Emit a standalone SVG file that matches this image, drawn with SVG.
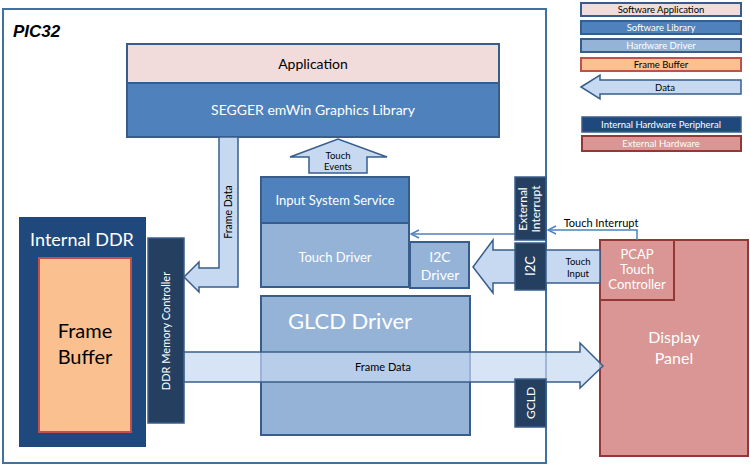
<svg xmlns="http://www.w3.org/2000/svg" width="750" height="466" viewBox="0 0 750 466">
<defs>
<style>
text{font-family:Lato,"Open Sans","Liberation Sans",sans-serif;text-anchor:middle}
.w{fill:#fff}
.k{fill:#000}
.app{fill:#F2DCDB;stroke:#385D8A;stroke-width:2}
.lib{fill:#4F81BD;stroke:#385D8A;stroke-width:2}
.drv{fill:#95B3D7;stroke:#385D8A;stroke-width:2}
.fb{fill:#FAC090;stroke:#C0504D;stroke-width:2}
.dat{fill:#C6D9F1;stroke:#385D8A;stroke-width:1.5}
.per{fill:#243F60;stroke:#385D8A;stroke-width:1.5}
.ext{fill:#D99694;stroke:#953735;stroke-width:2}
.ln{fill:none;stroke:#4F81BD;stroke-width:1.5}
</style>
<marker id="ah" viewBox="0 0 10 10" refX="9" refY="5" markerWidth="10" markerHeight="10" markerUnits="userSpaceOnUse" orient="auto">
<path d="M1,1 L9,5 L1,9" fill="none" stroke="#4F81BD" stroke-width="1.5"/>
</marker>
</defs>
<rect width="750" height="466" fill="#fff"/>

<g id="pic32">
<rect x="3" y="9" width="543" height="454" fill="none" stroke="#41719C" stroke-width="2"/>
<text x="13" y="37" style="font-family:'Liberation Sans',sans-serif;font-weight:bold;font-style:italic;font-size:17px;text-anchor:start" class="k">PIC32</text>
</g>

<g id="legend">
<rect x="581" y="3" width="160" height="13" class="app"/>
<text x="661" y="13" font-size="9.5" class="k">Software Application</text>
<rect x="581" y="21" width="160" height="13" class="lib"/>
<text x="661" y="31" font-size="9.5" class="w">Software Library</text>
<rect x="581" y="39" width="160" height="13" class="drv"/>
<text x="661" y="49" font-size="9.5" class="w">Hardware Driver</text>
<rect x="581" y="58" width="160" height="13" class="fb"/>
<text x="661" y="68" font-size="9.5" class="k">Frame Buffer</text>
<path d="M581,87 L600,75 L600,80 L741,80 L741,94 L600,94 L600,99 Z" class="dat"/>
<text x="665" y="91" font-size="9.5" class="k">Data</text>
<rect x="582" y="117" width="159" height="15" class="per" style="fill:#1F497D"/>
<text x="661" y="128" font-size="9.5" class="w">Internal Hardware Peripheral</text>
<rect x="582" y="136" width="159" height="15" class="ext"/>
<text x="661" y="147" font-size="9.5" class="w">External Hardware</text>
</g>

<g id="application">
<rect x="127" y="44" width="372" height="39" class="app"/>
<text x="313" y="69" font-size="14" class="k">Application</text>
</g>
<g id="segger">
<rect x="127" y="83" width="372" height="54" class="lib"/>
<text x="313" y="115" font-size="14" class="w">SEGGER emWin Graphics Library</text>
</g>

<g id="input-system-service">
<rect x="261" y="177" width="148" height="46" class="lib"/>
<text x="335" y="205" font-size="13" class="w">Input System Service</text>
</g>
<g id="touch-driver">
<rect x="261" y="223" width="148" height="64" class="drv"/>
<text x="335" y="262" font-size="13" class="w">Touch Driver</text>
</g>
<g id="i2c-driver">
<rect x="410" y="242" width="59" height="46" class="drv"/>
<text x="440" y="262" font-size="14" class="w">I2C</text>
<text x="440" y="280" font-size="14" class="w">Driver</text>
</g>
<g id="glcd-driver">
<rect x="261" y="296" width="209" height="139" class="drv"/>
<text x="350" y="329" font-size="22" class="w">GLCD Driver</text>
</g>

<g id="internal-ddr">
<rect x="19" y="217" width="127" height="230" fill="#1F497D"/>
<text x="82" y="246" font-size="18" class="w">Internal DDR</text>
</g>
<g id="frame-buffer">
<rect x="39" y="258" width="92" height="174" class="fb"/>
<text x="85" y="338" font-size="20" class="k">Frame</text>
<text x="85" y="364" font-size="20" class="k">Buffer</text>
</g>
<g id="ddr-memory-controller">
<rect x="148" y="238" width="36" height="185" class="per"/>
<text transform="translate(170,331) rotate(-90)" font-size="11" class="w">DDR Memory Controller</text>
</g>

<g id="display-panel">
<rect x="600" y="240" width="148" height="216" class="ext"/>
<text x="674" y="343" font-size="16" class="w">Display</text>
<text x="674" y="364" font-size="16" class="w">Panel</text>
</g>
<g id="pcap-touch-controller">
<rect x="600" y="240" width="74" height="60" class="ext"/>
<text x="637" y="259" font-size="13" class="w">PCAP</text>
<text x="637" y="274" font-size="13" class="w">Touch</text>
<text x="637" y="289" font-size="13" class="w">Controller</text>
</g>

<g id="connectors">
<path d="M219,137 L238,137 L238,287 L199,287 L199,292 L184,277 L199,262 L199,268 L219,268 Z" class="dat"/>
<text transform="translate(232,212) rotate(-90)" font-size="10.5" class="k">Frame Data</text>
<path d="M309,173 L309,157 L290,157 L338,139 L387,157 L367,157 L367,173 Z" class="dat"/>
<text x="338" y="159" font-size="9.5" class="k">Touch</text>
<text x="338" y="170" font-size="9.5" class="k">Events</text>
<path d="M600,250 L493,250 L493,240 L473,267 L493,293 L493,283 L600,283 Z" class="dat"/>
<text x="578" y="265" font-size="9.5" class="k">Touch</text>
<text x="578" y="277" font-size="9.5" class="k">Input</text>
<path d="M184,352 L580,352 L580,343 L603,366 L580,388 L580,382 L184,382 Z" class="dat" style="fill-opacity:0.7"/>
<text x="383" y="371" font-size="11" class="k">Frame Data</text>
<path d="M637,240 L637,230 L548,230" class="ln" marker-end="url(#ah)"/>
<text x="601" y="227" font-size="11" class="k">Touch Interrupt</text>
<path d="M515,234 L411,234" class="ln" marker-end="url(#ah)"/>
</g>

<g id="external-interrupt">
<rect x="515" y="177" width="31" height="63" class="per"/>
<text transform="translate(527,209) rotate(-90)" font-size="12" class="w">External</text>
<text transform="translate(540,209) rotate(-90)" font-size="12" class="w">Interrupt</text>
</g>
<g id="i2c">
<rect x="515" y="243" width="31" height="47" class="per"/>
<text transform="translate(535,266) rotate(-90)" font-size="13" class="w">I2C</text>
</g>
<g id="gcld">
<rect x="515" y="379" width="31" height="48" class="per"/>
<text transform="translate(535,403) rotate(-90)" font-size="12" class="w">GCLD</text>
</g>
</svg>
